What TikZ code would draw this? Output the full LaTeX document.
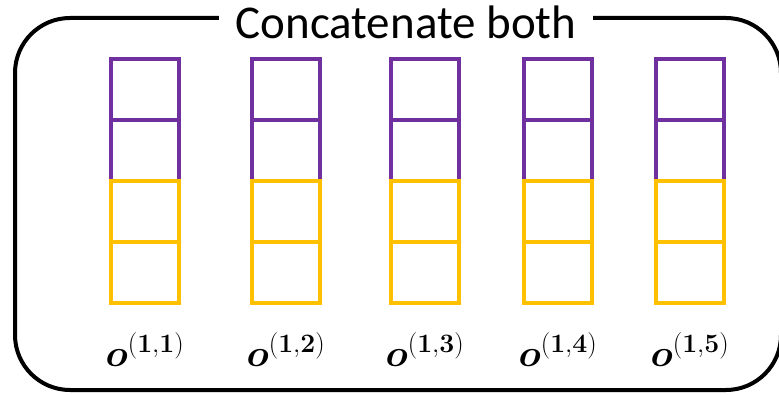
\RequirePackage{fix-cm}
\documentclass[tikz,border=0pt]{standalone}
\usepackage{amsmath}
\usepackage[no-math]{fontspec}
\setmainfont{Carlito}
\usetikzlibrary{positioning}
\definecolor{catpurple}{HTML}{7030A0}
\definecolor{catyellow}{HTML}{FFC000}

\begin{document}
\begin{tikzpicture}[x=1pt,y=-1pt,node distance=0pt,
  cell/.style={draw,line width=4pt,outer sep=0pt,inner sep=0pt,
    minimum width=68pt,minimum height=61pt},
  upper/.style={cell,draw=catpurple},
  lower/.style={cell,draw=catyellow},
  outname/.style={font=\fontsize{38}{44}\selectfont,anchor=base}]
\useasboundingbox (0,0) rectangle (779,395);
% frame
\draw[line width=4pt,rounded corners=55pt] (15,18) rectangle (781,390);
\node[fill=white,inner xsep=17pt,inner ysep=0pt,font=\fontsize{47}{50}\selectfont]
  (title) at (406,22) {Concatenate both};
% five output columns
\foreach \i/\x in {1/145,2/286,3/425,4/558,5/690}{
  \node[upper] (c\i-1) at (\x,90) {};
  \node[upper] (c\i-2) [below=of c\i-1] {};
  \node[lower] (c\i-3) [below=of c\i-2] {};
  \node[lower] (c\i-4) [below=of c\i-3] {};
  \node[outname] (o\i) at (\x,366) {$\boldsymbol{o}^{\mathbf{(1,\i)}}$};
}
\end{tikzpicture}
\end{document}
